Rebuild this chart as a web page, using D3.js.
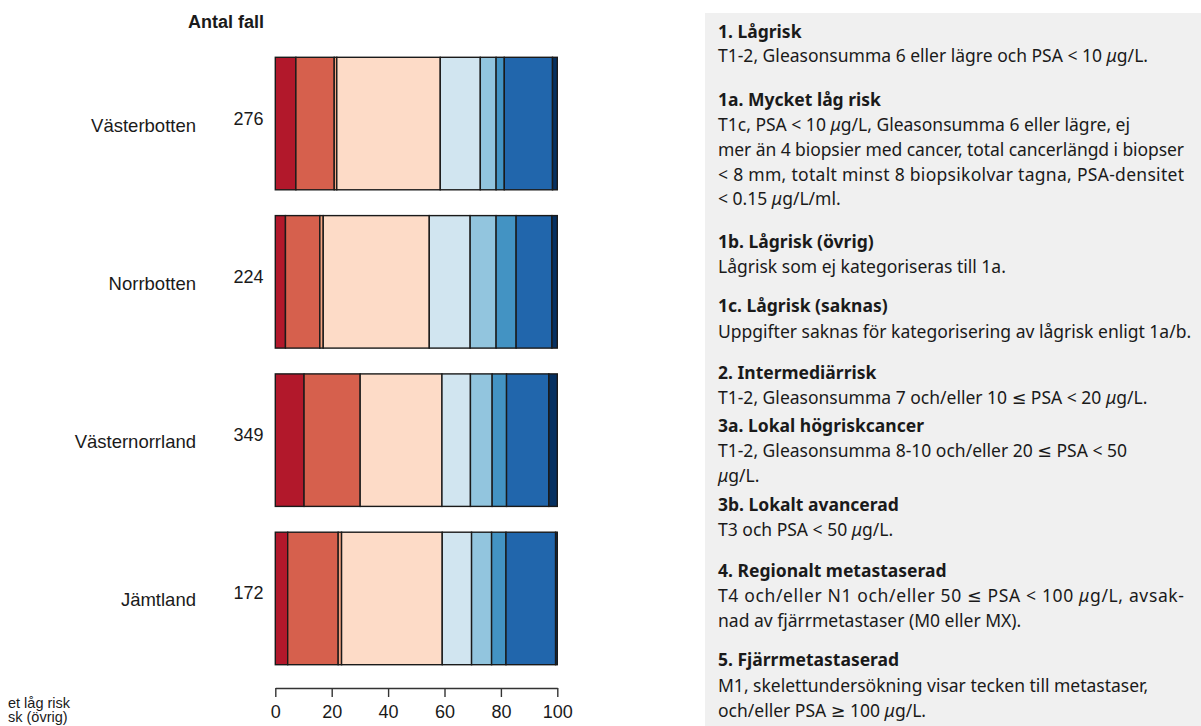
<!DOCTYPE html>
<html><head><meta charset="utf-8">
<script src="https://cdn.jsdelivr.net/npm/d3@7/dist/d3.min.js"></script>
<style>
html,body{margin:0;padding:0;background:#fff;overflow:hidden;}
svg{display:block;}
</style></head>
<body>
<svg id="chart" width="1201" height="726"></svg>
<script>
// ---------------- DATA ----------------
const regions = ["Västerbotten", "Norrbotten", "Västernorrland", "Jämtland"];
const counts = [276, 224, 349, 172];
const categories = ["1a", "1b", "1c", "2", "3a", "3b", "4", "5", "X"];
const categoryColors = ["#b2182b", "#d6604d", "#f4a582", "#fddbc7", "#d1e5f0", "#92c5de", "#4393c3", "#2166ac", "#053061"];
// percentages per category (1a,1b,1c,2,3a,3b,4,5,missing)
const vasterbotten   = [7.3, 13.6, 0.9, 36.7, 14.2, 5.6, 2.9, 17.1, 1.7];
const norrbotten     = [3.6, 12.2, 1.2, 37.6, 14.5, 9.2, 7.1, 12.7, 1.9];
const vasternorrland = [10.2, 19.9, 0.0, 29.0, 10.1, 7.7, 5.1, 15.0, 3.0];
const jamtland       = [4.4, 17.9, 1.2, 35.7, 10.4, 7.1, 5.1, 17.6, 0.6];
const tickValues = [0, 20, 40, 60, 80, 100];
const countTitle = "Antal fall";
// visible parts of the (cropped) legend at the bottom-left of the source
const legendFragments = ["et låg risk", "sk (övrig)"];

const panelLines = [
  ["1. Lågrisk", true],
  ["T1-2, Gleasonsumma 6 eller lägre och PSA < 10 μg/L.", false],
  ["1a. Mycket låg risk", true],
  ["T1c, PSA < 10 μg/L, Gleasonsumma 6 eller lägre, ej", false],
  ["mer än 4 biopsier med cancer, total cancerlängd i biopser", false, "justify"],
  ["< 8 mm, totalt minst 8 biopsikolvar tagna, PSA-densitet", false, "justify"],
  ["< 0.15 μg/L/ml.", false],
  ["1b. Lågrisk (övrig)", true],
  ["Lågrisk som ej kategoriseras till 1a.", false],
  ["1c. Lågrisk (saknas)", true],
  ["Uppgifter saknas för kategorisering av lågrisk enligt 1a/b.", false],
  ["2. Intermediärrisk", true],
  ["T1-2, Gleasonsumma 7 och/eller 10 ≤ PSA < 20 μg/L.", false],
  ["3a. Lokal högriskcancer", true],
  ["T1-2, Gleasonsumma 8-10 och/eller 20 ≤ PSA < 50", false],
  ["μg/L.", false],
  ["3b. Lokalt avancerad", true],
  ["T3 och PSA < 50 μg/L.", false],
  ["4. Regionalt metastaserad", true],
  ["T4 och/eller N1 och/eller 50 ≤ PSA < 100 μg/L, avsak-", false, "justify"],
  ["nad av fjärrmetastaser (M0 eller MX).", false],
  ["5. Fjärrmetastaserad", true],
  ["M1, skelettundersökning visar tecken till metastaser,", false],
  ["och/eller PSA ≥ 100 μg/L.", false]
];
// ---------------- LAYOUT ----------------
const panelBaselines = [38, 62, 106, 131, 156, 181, 205, 248, 273, 312, 338, 379, 404, 432, 457, 482, 511, 536, 577, 602, 627, 666, 692, 717];

const svg = d3.select("#chart");
const labelFont = "'Liberation Sans', Arial, sans-serif";

const x = d3.scaleLinear().domain([0, 100]).range([275.3, 557.3]);
const y = d3.scaleBand().domain(regions).range([57.3, 664.7]).paddingInner(0.163).paddingOuter(0);

const seriesByRegion = [vasterbotten, norrbotten, vasternorrland, jamtland];
const table = regions.map((r, i) => {
  const row = { region: r };
  categories.forEach((c, j) => row[c] = seriesByRegion[i][j]);
  return row;
});
const stacked = d3.stack().keys(categories)(table);
const color = d3.scaleOrdinal().domain(categories).range(categoryColors);

// bars
svg.append("g").selectAll("g").data(stacked).join("g")
  .attr("fill", d => color(d.key))
  .selectAll("rect").data(d => d).join("rect")
  .attr("x", d => x(d[0]))
  .attr("y", d => y(d.data.region))
  .attr("width", d => Math.max(0, x(d[1]) - x(d[0])))
  .attr("height", y.bandwidth())
  .attr("stroke", "#1a1a1a")
  .attr("stroke-width", 1.4);

// region labels
svg.append("g").selectAll("text").data(regions).join("text")
  .attr("x", 196)
  .attr("y", d => y(d) + y.bandwidth() / 2 + 8)
  .attr("text-anchor", "end")
  .style("font-family", labelFont).style("font-size", "18.5px").attr("fill", "#1a1a1a")
  .text(d => d);

// counts
svg.append("g").selectAll("text").data(regions).join("text")
  .attr("x", 263.5)
  .attr("y", (d, i) => y(d) + y.bandwidth() / 2 + 1)
  .attr("text-anchor", "end")
  .style("font-family", labelFont).style("font-size", "18px").attr("fill", "#1a1a1a")
  .text((d, i) => counts[i]);

svg.append("text")
  .attr("x", 264).attr("y", 28)
  .attr("text-anchor", "end")
  .style("font-family", labelFont).style("font-size", "18px").style("font-weight", "bold")
  .attr("fill", "#1a1a1a")
  .text(countTitle);

// axis
const axis = svg.append("g").attr("transform", "translate(0,688)")
  .call(d3.axisBottom(x).tickValues(tickValues).tickSize(9).tickSizeOuter(0).tickPadding(8));
axis.select(".domain").attr("stroke", "#333").attr("stroke-width", 1.4);
axis.selectAll(".tick line").attr("stroke", "#333").attr("stroke-width", 1.4);
axis.selectAll(".tick text").style("font-family", labelFont).style("font-size", "18px").attr("fill", "#1a1a1a");

// cropped legend fragment at bottom-left
svg.append("g").selectAll("text").data(legendFragments).join("text")
  .attr("x", 8)
  .attr("y", (d, i) => 708 + i * 14)
  .style("font-family", labelFont).style("font-size", "14.5px").attr("fill", "#1a1a1a")
  .text(d => d);

// right panel
svg.append("rect").attr("x", 705).attr("y", 13).attr("width", 496).attr("height", 713).attr("fill", "#f0f0f0");

const panelFont = "'Noto Sans', 'DejaVu Sans', sans-serif";
const pg = svg.append("g");
function addLine(str, bold, yy) {
  const t = pg.append("text").attr("x", 718).attr("y", yy)
    .style("font-family", panelFont)
    .style("font-weight", bold ? "bold" : "normal")
    .attr("fill", "#1a1a1a");
  const parts = str.split("μ");
  parts.forEach((p, k) => {
    if (k > 0) t.append("tspan").style("font-style", "italic").text("μ");
    if (p.length) t.append("tspan").text(p);
  });
  return t;
}
const texts = panelLines.map((l, i) => addLine(l[0], l[1], panelBaselines[i]));
texts.forEach(t => t.style("font-size", "16px"));
const refW = texts[1].node().getComputedTextLength();
const fs = Math.max(13, Math.min(17.5, 16 * 449 / refW));
texts.forEach(t => t.style("font-size", fs + "px"));
panelLines.forEach((l, i) => {
  if (l[2] === "justify") texts[i].attr("textLength", 466).attr("lengthAdjust", "spacing");
});
</script>
</body></html>
